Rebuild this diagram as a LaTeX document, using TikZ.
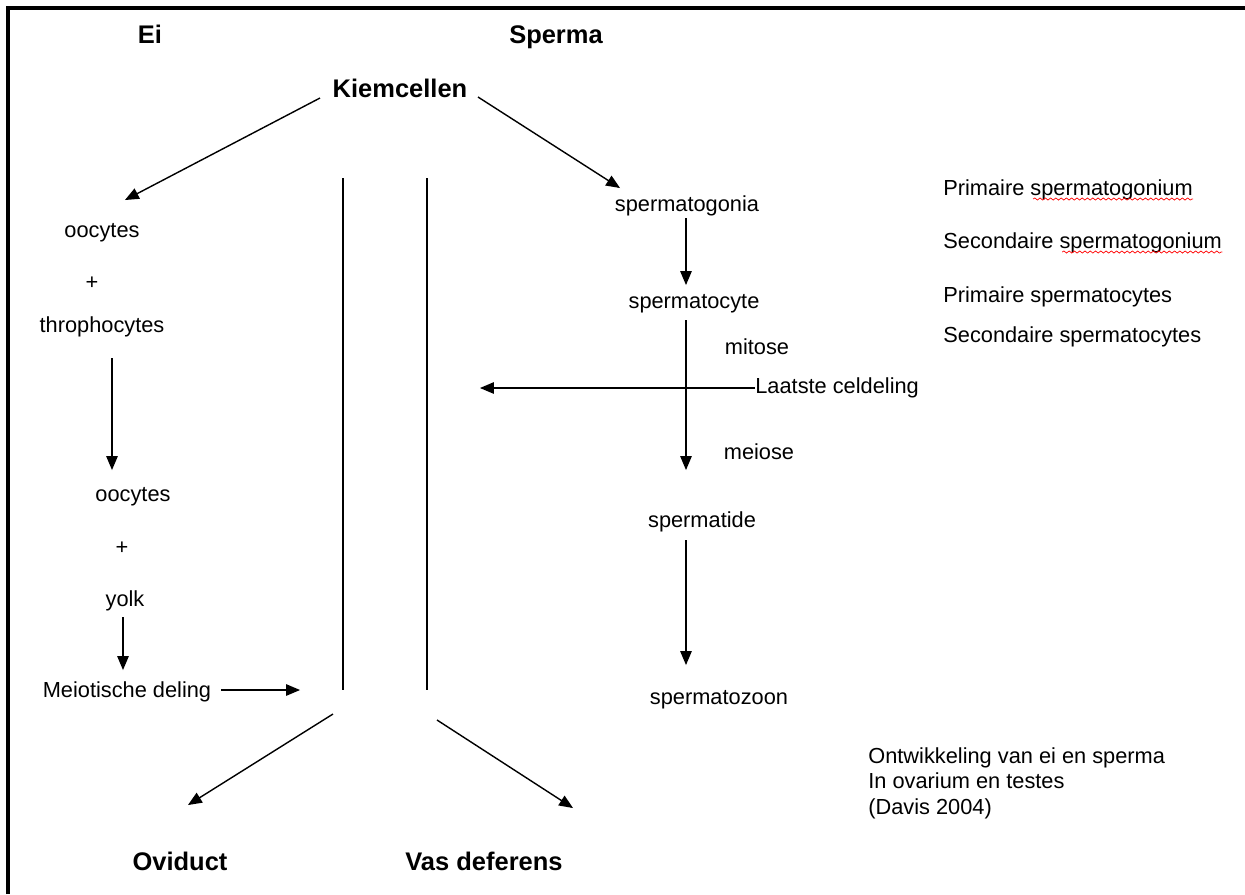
\documentclass[tikz,border=0pt]{standalone}
\usepackage{fontspec}
\setmainfont{Liberation Sans}
\usetikzlibrary{arrows}
\usetikzlibrary{positioning}
\usetikzlibrary{decorations.pathmorphing}
\tikzstyle{kopnode}=[inner sep=0pt, anchor=base, font=\fontsize{14.5}{17}\selectfont\bfseries]
\tikzstyle{tekstnode}=[inner sep=0pt, font=\fontsize{12.4}{14.5}\selectfont]

\begin{document}
\begin{tikzpicture}[x=0.02cm, y=-0.02cm,
 pijl/.style={-triangle 45, line width=0.8pt},
 lijn/.style={line width=0.8pt},
 kronkel/.style={draw=red, line width=0.4pt, decorate, decoration={snake, amplitude=0.6pt, segment length=3pt}}
 ]
 \useasboundingbox (0,0) rectangle (1245,894);
 \draw[line width=2pt] (8,894) -- (8,8) -- (1245,8);

 %Nodes
 \node[kopnode]   (ei_node)      at (150,43)  {Ei};
 \node[kopnode]   (sperma_node)  at (556,43)  {Sperma};
 \node[kopnode]   (kiem_node)    at (400,97)  {Kiemcellen};

 \node[tekstnode] (oocA_node)    at (102,233) {oocytes};
 \node[tekstnode] (plusA_node)   at (92,283)  {+};
 \node[tekstnode] (throph_node)  at (102,327) {throphocytes};
 \node[tekstnode] (oocB_node)    at (133,497) {oocytes};
 \node[tekstnode] (plusB_node)   at (122,548) {+};
 \node[tekstnode] (yolk_node)    at (125,601) {yolk};
 \node[tekstnode] (meio_node)    at (127,692) {Meiotische deling};

 \node[tekstnode] (sgonia_node)  at (687,206) {spermatogonia};
 \node[tekstnode] (socyte_node)  at (694,304) {spermatocyte};
 \node[tekstnode] (mitose_node)  at (757,347) {mitose};
 \node[tekstnode] (laatste_node) [anchor=west] at (755,388) {Laatste celdeling};
 \node[tekstnode] (meiose_node)  at (759,452) {meiose};
 \node[tekstnode] (stide_node)   at (702,522) {spermatide};
 \node[tekstnode] (szoon_node)   at (719,700) {spermatozoon};

 \node[kopnode]   (ovi_node)     at (180,870) {Oviduct};
 \node[kopnode]   (vas_node)     at (484,870) {Vas deferens};

 \node[tekstnode] (pgonA_node)   [anchor=west] at (943,190) {Primaire spermatogonium};
 \node[tekstnode] (pgonB_node)   [anchor=west] at (943,243) {Secondaire spermatogonium};
 \node[tekstnode] (pcytA_node)   [anchor=west] at (943,297) {Primaire spermatocytes};
 \node[tekstnode] (pcytB_node)   [anchor=west] at (943,337) {Secondaire spermatocytes};
 \node[tekstnode, align=left] (bron_node) [anchor=west] at (868,783) {Ontwikkeling van ei en sperma\\In ovarium en testes\\(Davis 2004)};

 \coordinate (kanaalLtop) at (343,178);
 \coordinate (kanaalLbot) at (343,690);
 \coordinate (kanaalRtop) at (427,178);
 \coordinate (kanaalRbot) at (427,690);
 \coordinate (meio_eind)  at (300,690);
 \coordinate (laatste_eind) at (480,388);
 \coordinate (splitL)     at (333,714);
 \coordinate (splitR)     at (437,720);

 %Lines
 \draw[pijl] ([shift={(-80,1)}]kiem_node.base) -- ([shift={(23,-33)}]oocA_node.center);
 \draw[pijl] ([shift={(78,0)}]kiem_node.base) -- ([shift={(-67,-18)}]sgonia_node.center);
 \draw[lijn] (kanaalLtop) -- (kanaalLbot);
 \draw[lijn] (kanaalRtop) -- (kanaalRbot);

 \draw[pijl] ([shift={(10,31)}]throph_node.center) -- ([shift={(-21,-27)}]oocB_node.center);
 \draw[pijl] ([shift={(-2,16)}]yolk_node.center) -- ([shift={(-4,-22)}]meio_node.center);
 \draw[pijl] ([shift={(94,-2)}]meio_node.center) -- (meio_eind);

 \draw[pijl] ([shift={(-1,12)}]sgonia_node.center) -- ([shift={(-8,-19)}]socyte_node.center);
 \draw[pijl] ([shift={(-8,16)}]socyte_node.center) -- ([shift={(-16,-52)}]stide_node.center);
 \draw[pijl] (laatste_node.west) -- (laatste_eind);
 \draw[pijl] ([shift={(-16,18)}]stide_node.center) -- ([shift={(-33,-35)}]szoon_node.center);

 \draw[pijl] (splitL) -- ([shift={(8,-65)}]ovi_node.base);
 \draw[pijl] (splitR) -- ([shift={(89,-62)}]vas_node.base);

 \draw[kronkel] ([shift={(-160,9)}]pgonA_node.east) -- ([shift={(0,9)}]pgonA_node.east);
 \draw[kronkel] ([shift={(-160,9)}]pgonB_node.east) -- ([shift={(0,9)}]pgonB_node.east);
\end{tikzpicture}
\end{document}
